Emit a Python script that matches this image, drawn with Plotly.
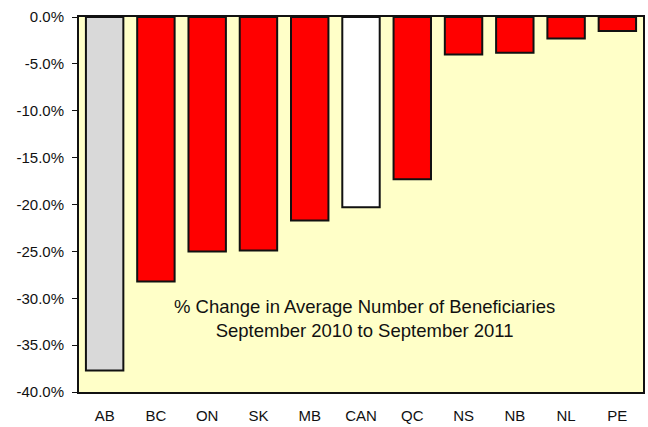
import plotly.graph_objects as go

categories = ["AB", "BC", "ON", "SK", "MB", "CAN", "QC", "NS", "NB", "NL", "PE"]
values = [-37.7, -28.2, -25.0, -24.9, -21.7, -20.3, -17.3, -4.0, -3.8, -2.3, -1.5]
colors = ["#D9D9D9", "#FF0000", "#FF0000", "#FF0000", "#FF0000", "#FFFFFF",
          "#FF0000", "#FF0000", "#FF0000", "#FF0000", "#FF0000"]
tick_vals = [0, -5, -10, -15, -20, -25, -30, -35, -40]
tick_text = ["0.0%", "-5.0%", "-10.0%", "-15.0%", "-20.0%", "-25.0%", "-30.0%", "-35.0%", "-40.0%"]

fig = go.Figure(go.Bar(
    x=categories, y=values,
    marker=dict(color=colors, line=dict(color="#111111", width=2)),
    width=0.73,
))

fig.update_layout(
    width=648, height=427,
    margin=dict(l=79, r=3, t=17, b=26),
    paper_bgcolor="white",
    plot_bgcolor="#FFFFC8",
    font=dict(family="Liberation Sans, Arial, sans-serif", size=15, color="#111111"),
    showlegend=False,
    annotations=[dict(
        text="% Change in Average Number of Beneficiaries<br>September 2010 to September 2011",
        x=0.507, y=0.195, xref="paper", yref="paper", showarrow=False,
        xanchor="center", yanchor="middle",
        font=dict(size=18.5, color="#111111"), align="center",
    )],
)
fig.update_xaxes(showline=True, linecolor="#111111", linewidth=2, mirror=True,
                 ticks="outside", ticklen=9, tickcolor="rgba(0,0,0,0)",
                 showgrid=False, tickfont=dict(size=15))
fig.update_yaxes(range=[-40, 0], tickvals=tick_vals, ticktext=tick_text,
                 showline=True, linecolor="#111111", linewidth=2, mirror=True,
                 ticks="outside", ticklen=5, tickcolor="#111111", showgrid=False,
                 zeroline=False, tickfont=dict(size=15), ticklabelstandoff=5)

fig.write_html(
    "out.html",
    config={"displayModeBar": False},
    post_script="document.body.style.margin='0px';document.body.style.overflow='hidden';",
)
